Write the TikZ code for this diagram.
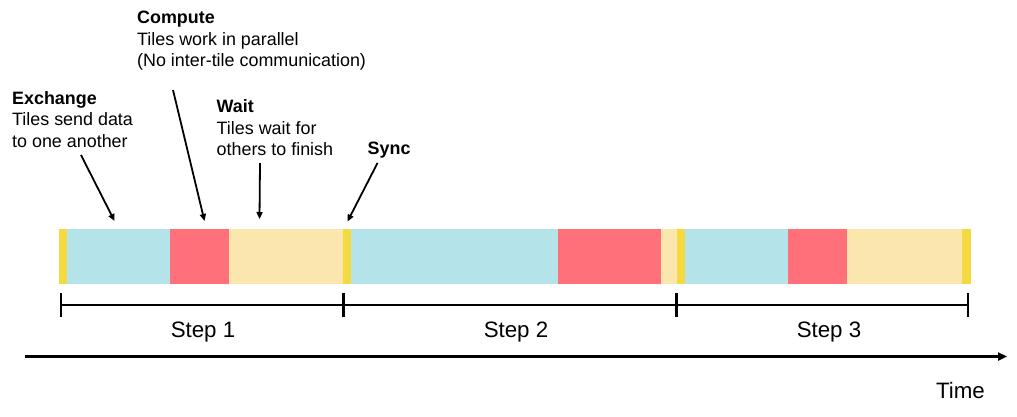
\documentclass[tikz,border=0pt]{standalone}
\usepackage{fontspec}
\setmainfont{Liberation Sans}
\usetikzlibrary{positioning,arrows.meta}

\definecolor{syncyellow}{HTML}{F4DA40}
\definecolor{exchcyan}{HTML}{B5E3EA}
\definecolor{compered}{HTML}{FF707A}
\definecolor{waitbeige}{HTML}{FBE6AE}

\tikzset{
  seg/.style={inner sep=0pt, outer sep=0pt, minimum height=55pt, draw=none},
  sync/.style={seg, fill=syncyellow, minimum width=8pt},
  exch/.style={seg, fill=exchcyan},
  comp/.style={seg, fill=compered},
  wait/.style={seg, fill=waitbeige},
  note/.style={align=left, anchor=base west, inner sep=0pt, font=\fontsize{17.9}{21.3}\selectfont},
  steplabel/.style={anchor=base, inner sep=0pt, font=\fontsize{22.3}{24}\selectfont},
  pointer/.style={line width=1.8pt, -{Triangle[length=7pt,width=6pt]}},
  axis/.style={line width=2.9pt}
}

\begin{document}
\begin{tikzpicture}[x=1pt, y=-1pt]
    \useasboundingbox (0,0) rectangle (1017,417);

    % Define nodes: step 1
    \node[sync, anchor=north west]  (s1)  at (59,229) {};
    \node[exch, minimum width=103pt, right = 0pt of s1]  (e1)  {};
    \node[comp, minimum width=59pt, right = 0pt of e1]   (c1)  {};
    \node[wait, minimum width=114pt, right = 0pt of c1]  (w1)  {};
    % step 2
    \node[sync, right = 0pt of w1]  (s2)  {};
    \node[exch, minimum width=207pt, right = 0pt of s2]  (e2)  {};
    \node[comp, minimum width=103pt, right = 0pt of e2]  (c2)  {};
    \node[wait, minimum width=16pt, right = 0pt of c2]   (w2)  {};
    % step 3
    \node[sync, right = 0pt of w2]  (s3)  {};
    \node[exch, minimum width=103pt, right = 0pt of s3]  (e3)  {};
    \node[comp, minimum width=59pt, right = 0pt of e3]   (c3)  {};
    \node[wait, minimum width=115pt, right = 0pt of c3]  (w3)  {};
    \node[sync, minimum width=9pt, right = 0pt of w3]    (s4)  {};

    % Annotations (base = last line)
    \node[note] (exchange) at (12,147) {\textbf{Exchange}\\Tiles send data\\to one another};
    \node[note] (compute)  at (137,66.5) {\textbf{Compute}\\Tiles work in parallel\\(No inter-tile communication)};
    \node[note] (waitnote) at (216.5,155.5) {\textbf{Wait}\\Tiles wait for\\others to finish};
    \node[note] (syncnote) at (367.5,154.5) {\textbf{Sync}};

    % Connect nodes
    \coordinate (exchTail) at (81,155);
    \coordinate (exchTip)  at (114.5,221);
    \coordinate (compTail) at (173,90);
    \coordinate (compTip)  at (204.5,221);
    \coordinate (waitTail) at (260,163);
    \coordinate (waitTip)  at (259.5,219);
    \coordinate (syncTail) at (377.5,163);
    \coordinate (syncTip)  at (347.5,221.5);
    \draw[pointer] (exchTail) -- (exchTip);
    \draw[pointer] (compTail) -- (compTip);
    \draw[pointer] (waitTail) -- (waitTip);
    \draw[pointer] (syncTail) -- (syncTip);

    % Steps
    \coordinate (t0) at (61,305);
    \coordinate (t1) at (343.5,305);
    \coordinate (t2) at (676.5,305);
    \coordinate (t3) at (968,305);
    \draw[axis] (t0) -- (t3);
    \foreach \t in {t0,t1,t2,t3}
        \draw[axis] (\t) ++(0,-12) -- ++(0,24);

    \node[steplabel] (step1) at (203,337) {Step 1};
    \node[steplabel] (step2) at (516,337) {Step 2};
    \node[steplabel] (step3) at (829,337) {Step 3};

    % Time axis
    \coordinate (timeStart) at (25,356.5);
    \coordinate (timeEnd)   at (1007,356.5);
    \draw[axis, -{Triangle[length=9pt,width=8pt]}] (timeStart) -- (timeEnd);
    \node[steplabel] (time) at (960.5,398.5) {Time};
\end{tikzpicture}
\end{document}
